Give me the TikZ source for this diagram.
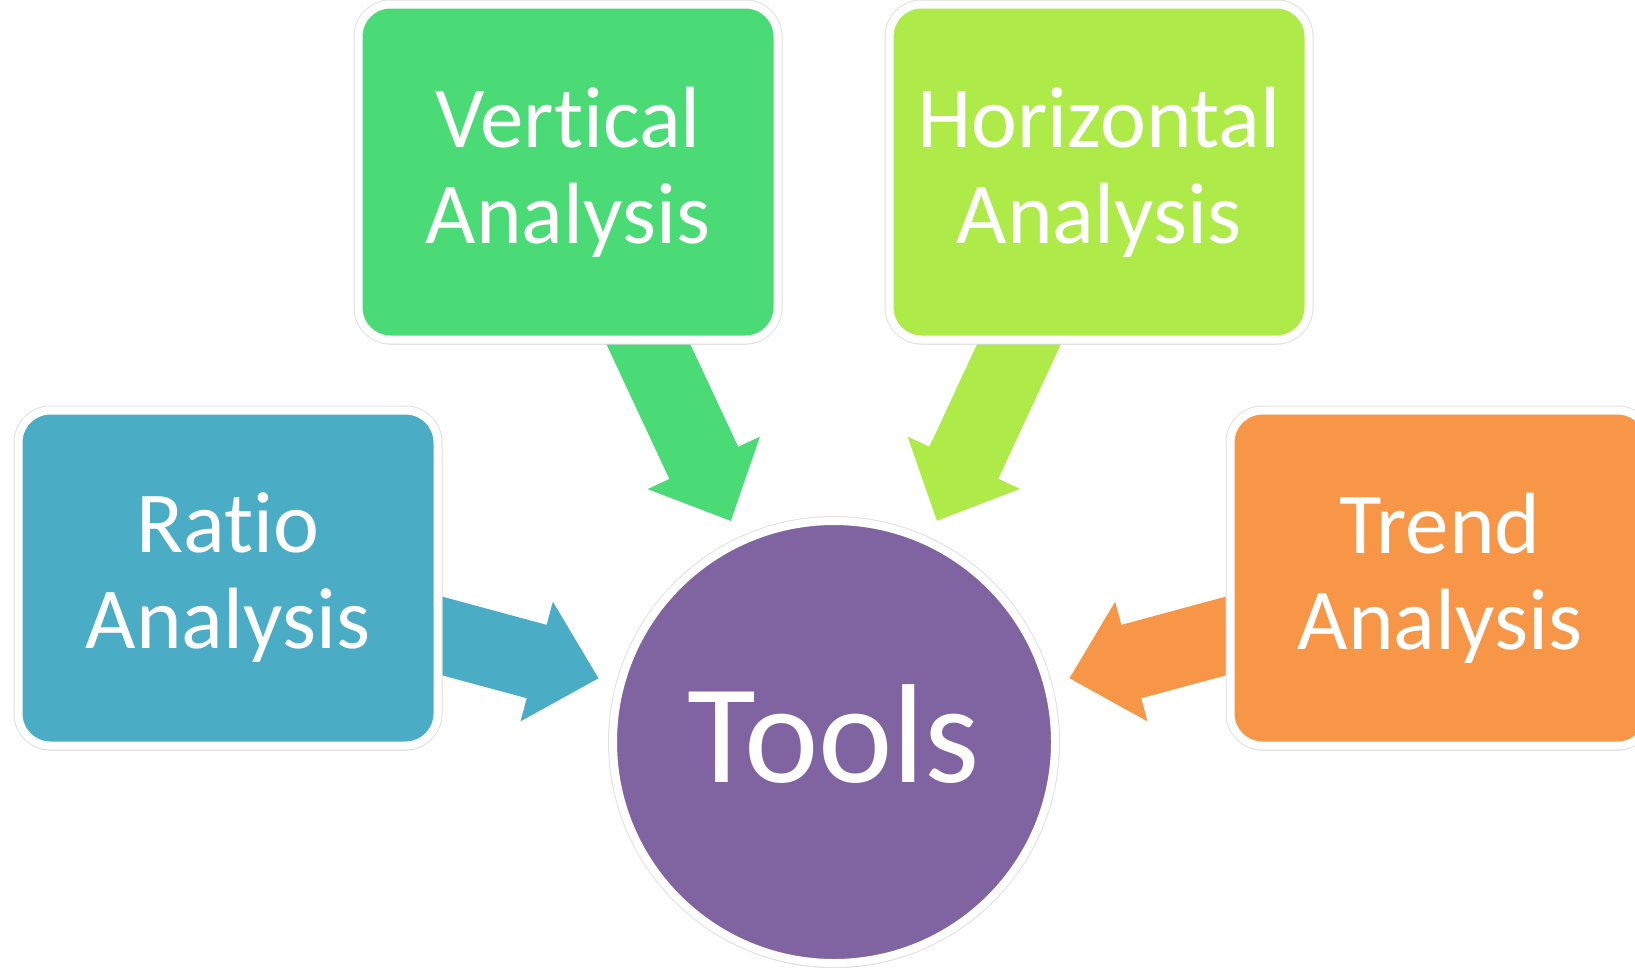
\documentclass[tikz,border=0pt]{standalone}
\usepackage{fontspec}
\setmainfont{Carlito}[Ligatures=NoCommon]
\usepackage{tikz}
\usetikzlibrary{calc}
\usetikzlibrary{shadows}
\usetikzlibrary{backgrounds}

\definecolor{ratioblue}{HTML}{4BACC6}
\definecolor{vertgreen}{HTML}{4ADA76}
\definecolor{horzlime}{HTML}{AEEB48}
\definecolor{trendorange}{HTML}{F79646}
\definecolor{toolspurple}{HTML}{8064A2}

\begin{document}
\begin{tikzpicture}[x=1pt,y=-1pt,
  whiterim/.style={draw=white,line width=8pt,text=white,
    drop shadow={shadow xshift=0pt,shadow yshift=-5pt,opacity=.3},
    preaction={draw=black!12,line width=10pt}},
  anabox/.style={whiterim,rectangle,rounded corners=32pt,
    minimum width=419pt,minimum height=335pt,align=center,
    font=\fontsize{87}{96}\selectfont}]
\useasboundingbox (0,0) rectangle (1635,967);
\node[anabox,fill=vertgreen] (vert) at (568,172) {Vertical\\Analysis};
\node[anabox,fill=horzlime] (horz) at (1099,172) {Horizontal\\Analysis};
\node[anabox,fill=ratioblue] (ratio) at (228,578) {Ratio\\Analysis};
\node[anabox,fill=trendorange] (trend) at (1440,578) {Trend\\Analysis};
\node[whiterim,circle,minimum size=442pt,fill=toolspurple,
  font=\fontsize{141}{150}\selectfont,text depth=16pt] (tools) at (834,742) {Tools};
\begin{scope}[on background layer]
\foreach \src/\col in {vert/vertgreen,horz/horzlime,ratio/ratioblue,trend/trendorange}
  \fill[\col] let \p1=(\src.center), \p2=(tools.center),
    \n1={atan2(\y2-\y1,\x2-\x1)}, \n2={veclen(\x2-\x1,\y2-\y1)-244pt}, \n3={\n2-64pt} in
    ($(\p1)+(\n1+90:38pt)$) -- ++(\n1:\n3) -- ++(\n1+90:24pt)
    -- ($(\p1)+(\n1:\n2)$)
    -- ($(\p1)+(\n1:\n3)+(\n1-90:62pt)$) -- ++(\n1+90:24pt)
    -- ($(\p1)+(\n1-90:38pt)$) -- cycle;
\end{scope}
\end{tikzpicture}
\end{document}
